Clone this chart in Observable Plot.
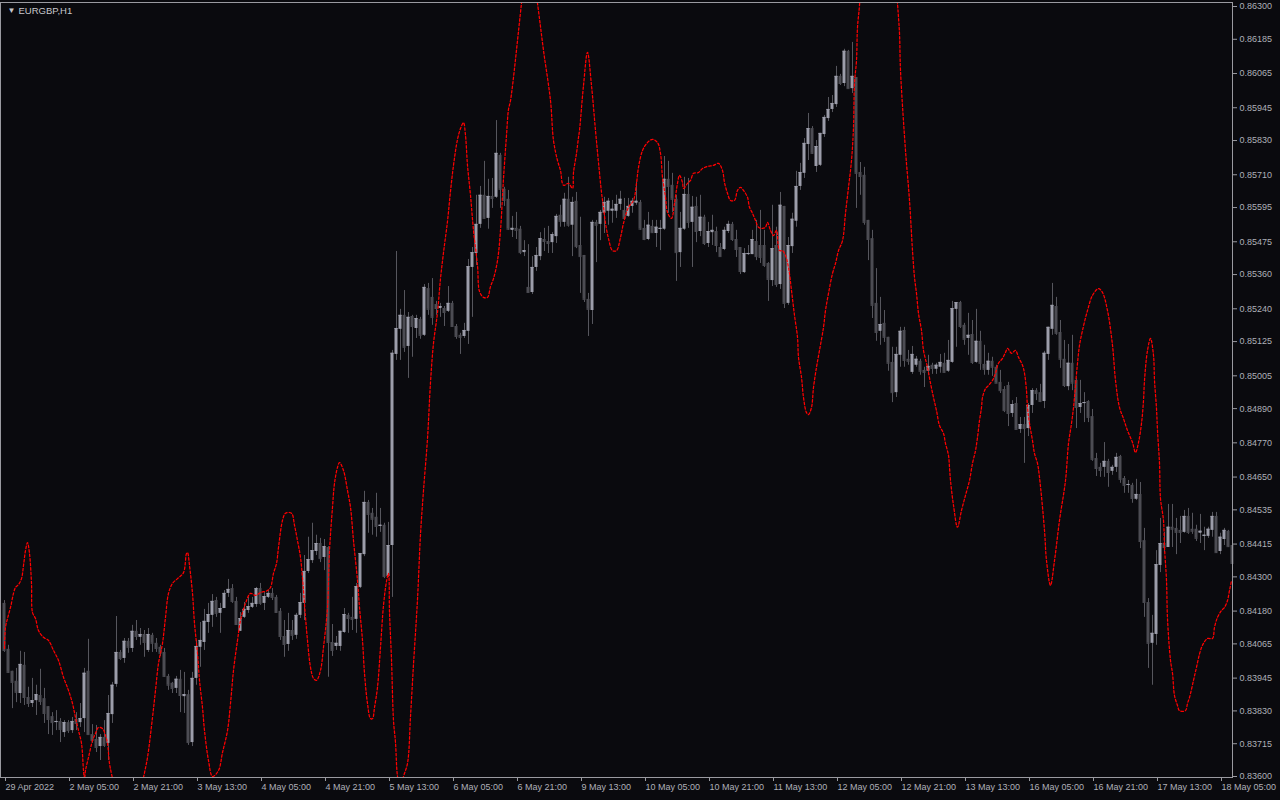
<!DOCTYPE html>
<html><head><meta charset="utf-8">
<script src="https://cdn.jsdelivr.net/npm/d3@7"></script>
<script src="https://cdn.jsdelivr.net/npm/@observablehq/plot@0.6"></script>
<style>html,body{margin:0;padding:0;background:#0a0a0e;overflow:hidden}#chart{width:1280px;height:800px}</style>
</head><body><div id="chart"></div>
<script>
const symbolLabel = "EURGBP,H1";
const timeTickIdx = [0,16,32,48,64,80,96,112,128,144,160,176,192,208,224,240,256,272,288,304];
const timeTickLabels = ["29 Apr 2022","2 May 05:00","2 May 21:00","3 May 13:00","4 May 05:00","4 May 21:00","5 May 13:00","6 May 05:00","6 May 21:00","9 May 13:00","10 May 05:00","10 May 21:00","11 May 13:00","12 May 05:00","12 May 21:00","13 May 13:00","16 May 05:00","16 May 21:00","17 May 13:00","18 May 05:00"];
const priceTickLabels = ["0.86300","0.86185","0.86065","0.85945","0.85830","0.85710","0.85595","0.85475","0.85360","0.85240","0.85125","0.85005","0.84890","0.84770","0.84650","0.84535","0.84415","0.84300","0.84180","0.84065","0.83945","0.83830","0.83715","0.83600"];

// hourly candles, prices in points (1e-5)
const openPts = [
84207,84046,83969,83934,83891,83990,83877,83856,83866,83884,
83873,83845,83810,83789,83793,83754,83789,83761,83800,83789,
83803,83969,83747,83730,83705,83737,83716,83817,83923,84035,
84014,84074,84049,84109,84088,84098,84042,84095,84067,84053,
84035,83951,83927,83909,83941,83880,83887,83719,83944,84053,
84070,84140,84165,84217,84172,84189,84242,84259,84214,84109,
84158,84182,84193,84203,84259,84207,84228,84242,84228,84179,
84091,84063,84112,84095,84165,84207,84319,84357,84389,84417,
84368,84403,84070,84056,84056,84105,84165,84158,84151,84263,
84378,84561,84523,84509,84477,84481,84301,84410,85080,85168,
85217,85108,85213,85171,85203,85147,85311,85280,85255,85241,
85241,85231,85259,85178,85147,85143,85161,85385,85434,85536,
85638,85557,85634,85631,85778,85659,85624,85515,85522,85519,
85437,85315,85297,85385,85423,85483,85476,85472,85493,85568,
85543,85624,85533,85617,85462,85427,85273,85234,85543,85536,
85575,85582,85582,85582,85606,85585,85564,85599,85610,85613,
85522,85483,85529,85504,85519,85519,85694,85673,85624,85437,
85519,85641,85543,85599,85511,85561,85469,85507,85511,85455,
85448,85511,85536,85483,85455,85367,85430,85430,85476,85462,
85462,85399,85339,85462,85325,85599,85259,85458,85547,85669,
85715,85816,85872,85739,85743,85851,85907,85939,85956,86055,
86030,86143,86012,86051,85718,85708,85550,85486,85259,85161,
85189,85140,85052,84946,85077,85164,85063,85017,85042,85056,
85024,85021,85042,85028,85035,85049,85021,85052,85238,85262,
85182,85136,85150,85052,85126,85045,85024,85056,85035,84982,
84957,84971,84873,84908,84817,84834,84820,84901,84953,84946,
84915,85080,85168,85248,85157,85063,84967,85049,84989,84894,
84908,84915,84862,84715,84684,84684,84705,84670,84684,84722,
84645,84621,84621,84572,84589,84427,84210,84067,84098,84340,
84417,84403,84474,84470,84463,84456,84512,84467,84467,84453,
84442,84442,84463,84512,84389,84431,84460,84410];
const closePts = [
84042,83965,83930,83895,83993,83877,83856,83866,83887,83863,
83821,83800,83789,83793,83765,83789,83761,83793,83786,83803,
83962,83747,83726,83702,83737,83709,83821,83920,84035,84014,
84074,84053,84109,84091,84098,84070,84098,84067,84049,84032,
83951,83920,83909,83941,83884,83887,83719,83944,84056,84077,
84144,84168,84214,84172,84189,84242,84256,84214,84133,84154,
84186,84196,84207,84259,84207,84231,84242,84228,84175,84091,
84063,84112,84095,84165,84210,84319,84361,84392,84417,84364,
84406,84070,84042,84067,84109,84168,84154,84151,84266,84382,
84561,84519,84502,84477,84481,84301,84410,85084,85171,85217,
85105,85210,85178,85206,85147,85315,85238,85210,85241,85248,
85227,85259,85178,85143,85140,85164,85388,85437,85536,85638,
85557,85634,85627,85785,85659,85620,85519,85522,85515,85437,
85444,85297,85385,85427,85486,85476,85469,85500,85564,85547,
85624,85533,85613,85458,85423,85273,85238,85543,85533,85578,
85613,85617,85589,85606,85624,85557,85599,85617,85617,85519,
85483,85533,85507,85526,85522,85694,85669,85624,85437,85522,
85641,85543,85596,85511,85561,85469,85511,85515,85462,85423,
85515,85536,85483,85448,85371,85434,85434,85483,85423,85420,
85392,85343,85451,85325,85603,85259,85462,85554,85669,85718,
85820,85872,85785,85809,85855,85911,85939,85960,86055,86030,
86143,86012,86055,85715,85704,85543,85483,85252,85157,85185,
85140,85049,84946,85080,85161,85059,85056,85080,85063,85021,
85017,85038,85031,85042,85052,85017,85059,85241,85262,85178,
85133,85147,85052,85126,85049,85028,85056,85035,84979,84953,
84883,84873,84904,84817,84834,84820,84901,84953,84943,84915,
85084,85175,85252,85154,85063,84971,85049,84979,84894,84908,
84911,84859,84712,84680,84673,84705,84666,84684,84719,84642,
84621,84624,84575,84589,84424,84210,84067,84102,84343,84417,
84403,84474,84467,84456,84456,84512,84456,84460,84435,84460,
84446,84467,84512,84385,84439,84463,84406,84347];
const highPts = [
84217,84060,83969,83979,84039,84035,83913,83944,83920,83976,
83909,83845,83824,83831,83803,83796,83796,83807,83824,83856,
83979,84081,83782,83779,83747,83796,83884,83930,84161,84042,
84084,84084,84130,84147,84119,84112,84119,84102,84084,84060,
84049,83958,83930,83951,83972,83965,83902,83965,84077,84140,
84186,84207,84238,84228,84207,84252,84291,84273,84228,84175,
84210,84228,84228,84263,84277,84245,84252,84259,84235,84189,
84147,84172,84147,84172,84242,84375,84439,84488,84446,84435,
84431,84406,84133,84091,84109,84189,84172,84228,84277,84382,
84600,84568,84540,84593,84540,84488,84491,85094,85441,85238,
85304,85227,85217,85217,85210,85325,85329,85346,85266,85259,
85248,85318,85266,85185,85154,85189,85413,85455,85638,85669,
85757,85694,85697,85900,85785,85666,85655,85564,85578,85529,
85479,85465,85423,85455,85507,85522,85529,85507,85571,85603,
85645,85701,85631,85648,85561,85427,85294,85550,85550,85585,
85631,85627,85620,85638,85652,85627,85627,85627,85683,85620,
85550,85578,85550,85550,85550,85774,85757,85715,85638,85578,
85701,85697,85634,85631,85638,85568,85543,85568,85526,85469,
85526,85547,85543,85515,85455,85451,85462,85515,85550,85585,
85515,85402,85603,85526,85648,85599,85490,85575,85722,85750,
85837,85925,85879,85830,85855,85918,85981,85988,86090,86062,
86150,86146,86174,86051,85753,85736,85550,85515,85381,85280,
85234,85140,85105,85105,85175,85175,85094,85108,85073,85063,
85035,85077,85049,85049,85080,85084,85129,85266,85262,85266,
85189,85224,85199,85238,85161,85112,85084,85070,85042,85024,
84967,84982,84918,84929,84859,84859,84908,84960,84960,84975,
85091,85175,85329,85280,85199,85129,85115,85147,84996,84989,
84946,84918,84887,84733,84698,84771,84712,84691,84733,84726,
84652,84638,84628,84642,84631,84470,84224,84165,84392,84505,
84456,84554,84554,84505,84512,84533,84540,84523,84481,84519,
84474,84474,84526,84526,84453,84470,84463,84417];
const lowPts = [
84035,83962,83838,83859,83856,83849,83842,83842,83814,83849,
83786,83747,83744,83761,83719,83737,83751,83751,83761,83772,
83754,83747,83716,83684,83656,83702,83656,83786,83913,84007,
83997,84032,84035,84077,84060,84018,84035,84035,84035,84021,
83948,83902,83891,83891,83824,83821,83709,83705,83920,83983,
84042,84102,84123,84158,84102,84189,84228,84207,84130,84109,
84154,84172,84189,84193,84200,84182,84224,84217,84172,84077,
84018,84039,84077,84081,84154,84147,84312,84347,84375,84350,
84322,83948,84021,84042,84039,84102,84102,84112,84102,84259,
84371,84453,84446,84439,84456,84294,84298,84228,85059,85059,
85087,84996,85070,85136,85133,85143,85217,85182,85217,85210,
85178,85227,85175,85133,85080,85136,85115,85210,85392,85522,
85554,85519,85592,85627,85592,85599,85515,85490,85483,85430,
85423,85297,85290,85371,85409,85441,85434,85434,85469,85526,
85526,85526,85423,85451,85294,85262,85143,85185,85402,85479,
85504,85533,85540,85557,85585,85550,85561,85575,85603,85515,
85479,85479,85504,85455,85444,85515,85575,85578,85336,85385,
85515,85522,85385,85472,85493,85462,85455,85462,85437,85423,
85444,85504,85476,85420,85360,85364,85427,85430,85409,85399,
85385,85266,85318,85315,85308,85241,85252,85434,85526,85655,
85697,85760,85781,85718,85739,85841,85897,85928,85946,86023,
86019,86012,85995,85592,85638,85533,85409,85206,85126,85112,
85122,85021,84911,84929,85035,85035,85042,85010,85035,85007,
84964,85007,85010,85010,85014,85014,85017,85049,85105,85171,
85112,85077,85045,85049,85024,85007,85007,85003,84979,84943,
84876,84827,84859,84817,84803,84698,84792,84873,84918,84911,
84890,85059,85147,85147,85031,84964,84953,84953,84820,84873,
84841,84841,84705,84652,84649,84649,84614,84656,84666,84628,
84593,84593,84558,84568,84399,84158,83979,83920,84060,84315,
84385,84403,84403,84378,84417,84453,84449,84449,84424,84417,
84392,84435,84439,84382,84378,84410,84403,84333];

// red dotted indicator: bar index and value in points (1e-5)
const sigIdx = [0,0.25,0.75,1.5,2.25,2.75,3.5,4.25,4.75,5.25,5.75,6.25,6.75,7,7.75,8.5,9.75,11,12.25,13.5,14.75,16,17,17.75,18.5,19.25,19.75,20,20.25,21,22,22.75,23.5,24.5,25.25,25.75,26.25,27,30.75,34.75,35.75,37,37.75,38.5,39.5,40.25,41,42,43.25,44.75,45.5,45.75,46.25,47,47.5,48.25,48.75,49.5,50,51,52,53.5,54.5,55.75,56.5,57.25,58.25,59,60.25,61.5,62.75,64,65.75,66.5,67.25,68,68.5,69.5,70.25,71.75,72.5,73.25,74,74.75,75.25,75.75,76.5,77.25,78,79,79.75,80.75,81.25,82,82.5,83.25,83.75,84.75,85.75,86.5,87.25,88.25,88.75,89.5,90,90.75,91.5,92,92.5,93.25,94,94.75,95.5,96,96.25,96.75,97.25,97.75,98.25,99,99.75,100.75,101.5,102.25,103.25,104,104.75,105.75,106.5,107.25,108.25,109,109.75,110.75,111.5,112.25,113.25,114,114.75,115.25,115.75,116.5,117.25,118.25,118.75,119.75,120.75,121.5,122.25,123.25,124,124.75,125.5,126,126.5,129.25,131,133.25,134.75,136.5,137.25,138.25,139,139.75,141,142,142.25,143,143.5,143.75,144.75,145.75,146.75,147.75,148.5,149.25,149.75,150.25,151,152,153,154,154.75,156,157.25,158,158.5,159.5,160.75,162,163.25,164,164.5,165.25,165.75,166.75,167.5,168.25,168.75,169.5,169.75,170.75,171.5,172.25,173.5,174.5,175.75,177.25,178.5,179.5,180,180.75,181.5,182.5,183.25,184,184.75,185.75,186.25,187,187.75,188.5,189.5,190.25,190.75,191.5,192.25,193,193.75,194.5,195.25,196,196.75,197.5,198.25,198.5,199.25,199.75,200.5,201,201.75,202.25,203,203.75,204.75,205.25,206,207,207.75,208.5,209.5,210.25,211,211.75,212.25,212.5,213,213.25,213.75,215.5,218.5,221.5,223.25,223.75,224,225.25,226.25,227,227.5,228,228.5,229.25,229.75,230.75,231.5,232.25,233,233.75,234.75,235.25,236,236.25,236.5,237.25,238.25,239.25,240.25,241.25,242,242.75,243.25,243.75,244.25,244.5,245.25,246,247,247.75,248.5,249.5,250.25,250.75,251.75,252.75,253.5,254.5,255,255.5,255.75,256.25,257,257.5,258.25,258.75,260,260.5,261.5,262.5,263.75,265.25,266,266.75,267.25,267.75,268.25,268.75,269.5,270.75,272,273.5,274.5,275.75,277,277.75,278.75,279.75,280.75,282,282.75,283.5,284.25,284.75,285,285.75,286.5,287.25,287.5,288,288.25,288.75,289,289.75,290,290.5,290.75,291.5,292,292.5,293.25,293.75,295.25,295.75,296.25,297.25,298,299,299.75,300.75,302,302.5,303.25,304.25,305,305.75,306.25,306.75];
const sigPts = [84049,84123,84154,84193,84242,84263,84273,84294,84340,84392,84420,84382,84277,84175,84154,84112,84088,84077,84042,84007,83948,83902,83856,83807,83761,83716,83621,83590,83621,83667,83726,83751,83772,83768,83744,83716,83646,83593,83341,83597,83667,83807,83902,83997,84067,84158,84242,84277,84294,84315,84382,84385,84340,84242,84137,84032,83937,83842,83761,83656,83600,83621,83684,83761,83856,83972,84077,84147,84207,84242,84235,84245,84252,84263,84312,84347,84403,84498,84523,84523,84481,84427,84368,84252,84158,84077,83983,83944,83937,83972,84053,84193,84392,84544,84628,84684,84701,84673,84603,84544,84427,84287,84193,84077,83962,83856,83803,83803,83842,83913,84053,84200,84284,84312,84175,84011,83796,83719,83600,83551,83600,83646,83810,83993,84221,84449,84603,84785,84982,85119,85227,85346,85437,85547,85652,85743,85834,85872,85893,85848,85743,85638,85515,85392,85301,85280,85280,85318,85346,85409,85515,85697,85848,85939,85970,86311,86531,86311,86146,85970,85830,85760,85725,85673,85680,85662,85718,85785,85841,85865,86023,86139,86023,85865,85753,85648,85596,85540,85486,85444,85444,85490,85540,85596,85620,85680,85736,85795,85823,85834,85823,85785,85701,85631,85578,85557,85610,85680,85708,85683,85662,85680,85690,85715,85718,85732,85739,85743,85750,85725,85683,85645,85620,85620,85655,85666,85655,85631,85596,85575,85550,85526,85522,85526,85543,85515,85497,85515,85444,85444,85427,85385,85304,85217,85140,85070,85000,84929,84876,84869,84894,84964,85035,85094,85175,85234,85294,85364,85399,85444,85479,85575,85666,85760,85876,86030,86111,86227,86304,86671,86881,86671,86311,86206,86076,85795,85620,85444,85350,85294,85224,85164,85094,85035,84979,84929,84883,84831,84803,84768,84726,84684,84638,84551,84474,84533,84586,84638,84698,84743,84789,84848,84894,84929,84960,84971,84989,85014,85049,85066,85087,85101,85084,85094,85070,85042,85014,84953,84894,84838,84778,84733,84698,84649,84463,84357,84270,84357,84498,84638,84768,84838,84894,84971,85049,85112,85164,85234,85287,85311,85297,85234,85112,84989,84894,84855,84813,84771,84736,84771,84838,84918,84989,85094,85136,85077,84989,84890,84813,84698,84575,84498,84403,84287,84154,84007,83962,83884,83849,83831,83831,83856,83877,83937,83983,84042,84067,84084,84084,84123,84158,84182,84193,84217,84252,84287];

const candles = openPts.map((o, i) => ({
  i, open: o / 1e5, high: highPts[i] / 1e5, low: lowPts[i] / 1e5, close: closePts[i] / 1e5
}));
const signal = sigIdx.map((x, k) => ({i: x, v: sigPts[k] / 1e5}));
const priceTicks = priceTickLabels.map(Number);
const priceLabelMap = new Map(priceTicks.map((v, k) => [v, priceTickLabels[k]]));
const timeLabelMap = new Map(timeTickIdx.map((v, k) => [v, timeTickLabels[k]]));

const bullColor = "#9c9daa", bearColor = "#4c4c53", wickColor = "#56565d";
const axisColor = "#9a9aa0", textColor = "#aeb0b8";
const bodyHalf = 0.375;

const chart = Plot.plot({
  width: 1280, height: 800,
  marginLeft: 0, marginRight: 48, marginTop: 2, marginBottom: 23,
  style: {background: "#0a0a0e", color: textColor, fontFamily: "'Liberation Sans', Arial, sans-serif", fontSize: "9px"},
  x: {domain: [-1, 307]},
  y: {domain: [0.836, 0.863], range: [776, 6]},
  marks: [
    Plot.ruleX(candles, {x: "i", y1: "low", y2: "high", stroke: wickColor, strokeWidth: 1}),
    Plot.rect(candles, {
      x1: d => d.i - bodyHalf, x2: d => d.i + bodyHalf,
      y1: "open", y2: "close",
      fill: d => d.close >= d.open ? bullColor : bearColor
    }),
    Plot.ruleY(candles, {
      y: "close", x1: d => d.i - bodyHalf, x2: d => d.i + bodyHalf,
      stroke: d => d.close >= d.open ? bullColor : bearColor
    }),
    Plot.line(signal, {x: "i", y: "v", stroke: "#ff0000", strokeWidth: 1.25, strokeDasharray: "2.5,2", curve: "catmull-rom", clip: true}),
    Plot.frame({stroke: axisColor}),
    Plot.axisY({
      anchor: "right", ticks: priceTicks, tickFormat: d => priceLabelMap.get(d),
      tickSize: 4, tickPadding: 3, stroke: axisColor, fill: textColor, label: null
    }),
    Plot.axisX({
      anchor: "bottom", ticks: timeTickIdx, tickFormat: d => timeLabelMap.get(d),
      tickSize: 4, tickPadding: 2, textAnchor: "start", dx: 1, stroke: axisColor, fill: textColor, label: null
    }),
    Plot.text(["\u25BC"], {frameAnchor: "top-left", dx: 7, dy: 8, fontSize: 8, fill: "#c8c8cc", lineAnchor: "middle"}),
    Plot.text([symbolLabel], {frameAnchor: "top-left", dx: 18, dy: 8, textAnchor: "start", lineAnchor: "middle", fontSize: 9.5, fill: "#c8c8cc"})
  ]
});
document.getElementById("chart").appendChild(chart);
</script>
</body></html>
